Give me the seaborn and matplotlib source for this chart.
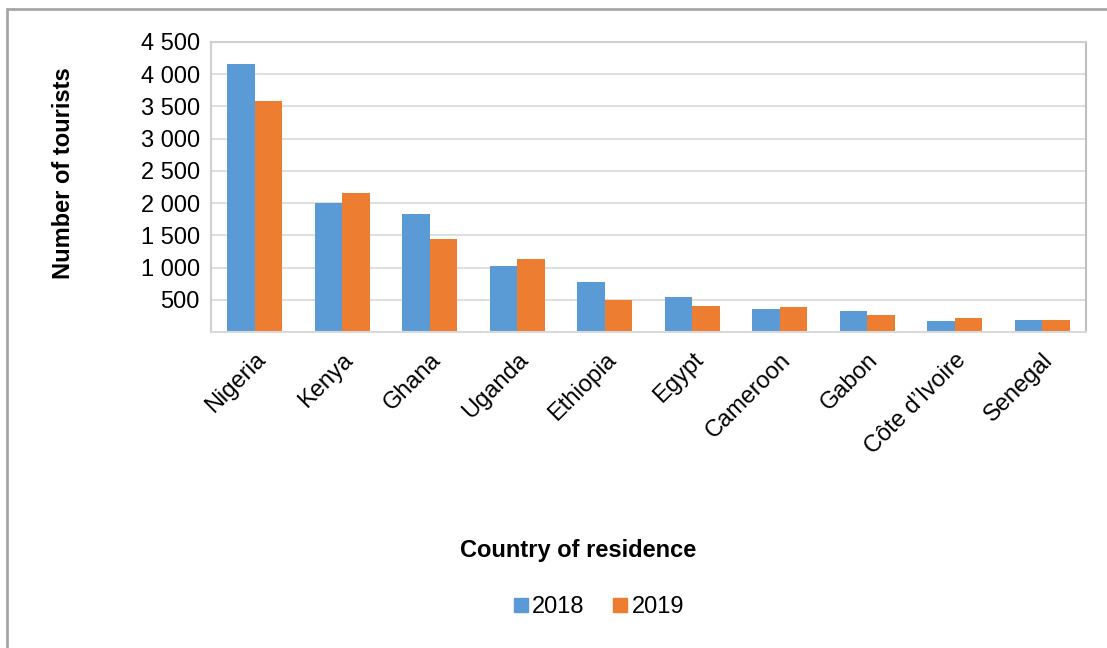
import numpy as np
import pandas as pd
import seaborn as sns
import matplotlib.pyplot as plt
from matplotlib.lines import Line2D
from matplotlib.patches import Rectangle

# Chart data
countries = ['Nigeria', 'Kenya', 'Ghana', 'Uganda', 'Ethiopia', 'Egypt',
             'Cameroon', 'Gabon', 'Côte d’Ivoire', 'Senegal']
tourists_2018 = [4160, 2000, 1835, 1020, 780, 545, 362, 323, 165, 185]
tourists_2019 = [3585, 2155, 1440, 1140, 503, 410, 387, 268, 222, 185]
years = ['2018', '2019']
y_ticks = [500, 1000, 1500, 2000, 2500, 3000, 3500, 4000, 4500]

colors = ['#5b9bd5', '#ed7d31']
FS = 17

sns.set_style('white')
plt.rcParams['font.family'] = ['Liberation Sans', 'DejaVu Sans']
plt.rcParams['text.color'] = 'black'
plt.rcParams['xtick.color'] = 'black'
plt.rcParams['ytick.color'] = 'black'

df = pd.DataFrame({
    'Country': countries * 2,
    'Year': [years[0]] * len(countries) + [years[1]] * len(countries),
    'Tourists': tourists_2018 + tourists_2019,
})

W, H = 1107, 648
fig = plt.figure(figsize=(W / 100, H / 100), dpi=100)
ax = fig.add_axes([211 / W, 1 - 332 / H, 875 / W, 290 / H])

sns.barplot(data=df, x='Country', y='Tourists', hue='Year', palette=colors,
            width=0.63, gap=0, linewidth=0, saturation=1, legend=False, ax=ax)

# Axis styling
ax.set_xlim(-0.5, len(countries) - 0.5)
ax.set_ylim(0, 4500)
ax.set_yticks(y_ticks)
ax.set_yticklabels([f'{v:,}'.replace(',', ' ') for v in y_ticks], fontsize=FS)
ax.yaxis.grid(True, color='#d9d9d9', linewidth=1.2)
ax.set_axisbelow(True)
ax.tick_params(axis='y', length=0, pad=8)
ax.tick_params(axis='x', length=0, pad=12)
ax.set_xticks(range(len(countries)))
ax.set_xticklabels(countries, rotation=45, ha='right', rotation_mode='anchor', fontsize=FS)
ax.set_xlabel('')
ax.set_ylabel('')
for side in ['left', 'top']:
    ax.spines[side].set_color('#d0d0d0')
ax.spines['right'].set_color('#bfbfbf')
ax.spines['bottom'].set_color('#d9d9d9')
for s in ax.spines.values():
    s.set_linewidth(1.5)

# Axis titles
fig.text(64 / W, 1 - 173 / H, 'Number of tourists', rotation=90, ha='center', va='center',
         fontsize=FS, fontweight='bold')
fig.text(578 / W, 1 - 551 / H, 'Country of residence', ha='center', va='center',
         fontsize=FS, fontweight='bold')

# Legend
handles = [Line2D([], [], marker='s', linestyle='none', markersize=10, color=c) for c in colors]
fig.legend(handles, years, loc='center', bbox_to_anchor=(599 / W, 1 - 607 / H), ncol=2,
           frameon=False, fontsize=FS, handlelength=0.6, handletextpad=0.2, columnspacing=1.2)

# Outer chart frame
fig.patches.append(Rectangle((7 / W, -0.1), 1.2, (H - 9) / H + 0.1, transform=fig.transFigure,
                             fill=False, edgecolor='#a6a6a6', linewidth=2))

fig.savefig('out.png', dpi=100)
